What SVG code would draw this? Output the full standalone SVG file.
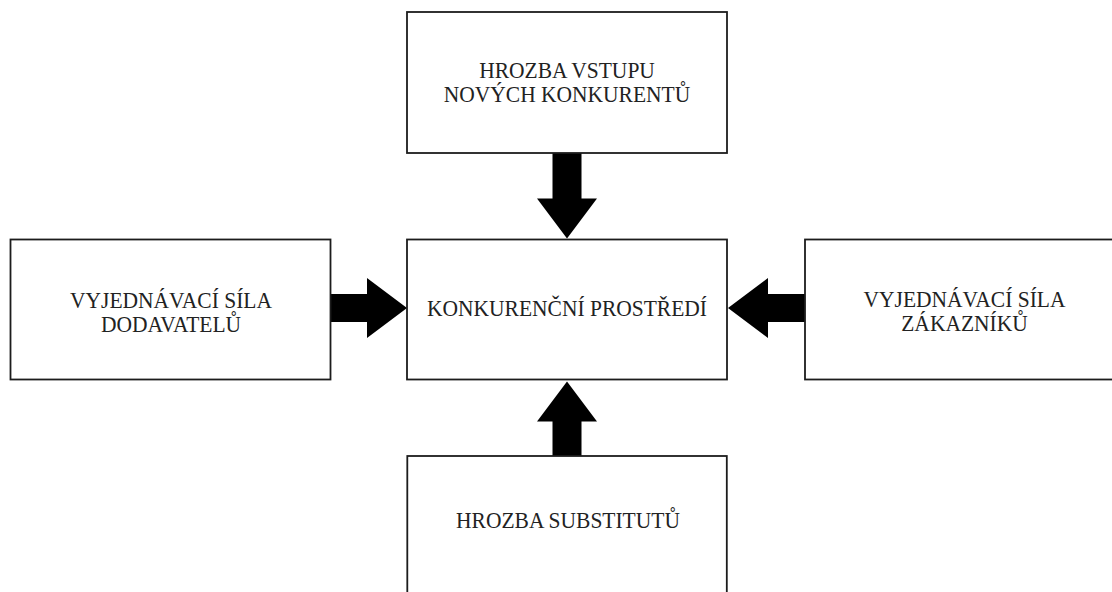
<svg xmlns="http://www.w3.org/2000/svg" width="1112" height="592" viewBox="0 0 1112 592">
  <style>
    .box { fill: #ffffff; stroke: #1c1c1c; stroke-width: 1.8; }
    .arrow { fill: #000000; }
    .label { font-family: "Liberation Serif", "Times New Roman", serif; font-size: 21.5px; fill: #222222; text-anchor: middle; }
  </style>
  <rect width="1112" height="592" fill="#ffffff"/>

  <!-- Porter's five forces: four outer boxes pushing into the centre -->
  <g id="connectors">
    <!-- top to centre -->
    <polygon class="arrow" points="552.5,153 581.5,153 581.5,198.5 597,198.5 567,238.5 537,198.5 552.5,198.5"/>
    <!-- bottom to centre -->
    <polygon class="arrow" points="552.5,456 581.5,456 581.5,421.5 597,421.5 567,381.5 537,421.5 552.5,421.5"/>
    <!-- left to centre -->
    <polygon class="arrow" points="330,294 367,294 367,278 407,308 367,338 367,322 330,322"/>
    <!-- right to centre -->
    <polygon class="arrow" points="805,294 768,294 768,278 728,308 768,338 768,322 805,322"/>
  </g>

  <g id="node-entrants">
    <rect class="box" x="407" y="12" width="320" height="141"/>
    <g transform="translate(567,77.5) scale(1,1.08)"><text class="label" x="0" y="0">HROZBA VSTUPU</text></g>
    <g transform="translate(567,101.5) scale(1,1.08)"><text class="label" x="0" y="0">NOVÝCH KONKURENTŮ</text></g>
  </g>

  <g id="node-rivalry">
    <rect class="box" x="407" y="239.5" width="320" height="140"/>
    <g transform="translate(567,315.5) scale(1,1.08)"><text class="label" x="0" y="0">KONKURENČNÍ PROSTŘEDÍ</text></g>
  </g>

  <g id="node-suppliers">
    <rect class="box" x="10.5" y="239.5" width="320" height="140"/>
    <g transform="translate(171,308) scale(1,1.08)"><text class="label" x="0" y="0">VYJEDNÁVACÍ SÍLA</text></g>
    <g transform="translate(171,332) scale(1,1.08)"><text class="label" x="0" y="0">DODAVATELŮ</text></g>
  </g>

  <g id="node-buyers">
    <rect class="box" x="805" y="239.5" width="320" height="140"/>
    <g transform="translate(964.5,307) scale(1,1.08)"><text class="label" x="0" y="0">VYJEDNÁVACÍ SÍLA</text></g>
    <g transform="translate(964.5,331) scale(1,1.08)"><text class="label" x="0" y="0">ZÁKAZNÍKŮ</text></g>
  </g>

  <g id="node-substitutes">
    <rect class="box" x="407.3" y="456" width="319.5" height="150"/>
    <g transform="translate(568,528) scale(1,1.08)"><text class="label" x="0" y="0">HROZBA SUBSTITUTŮ</text></g>
  </g>
</svg>
